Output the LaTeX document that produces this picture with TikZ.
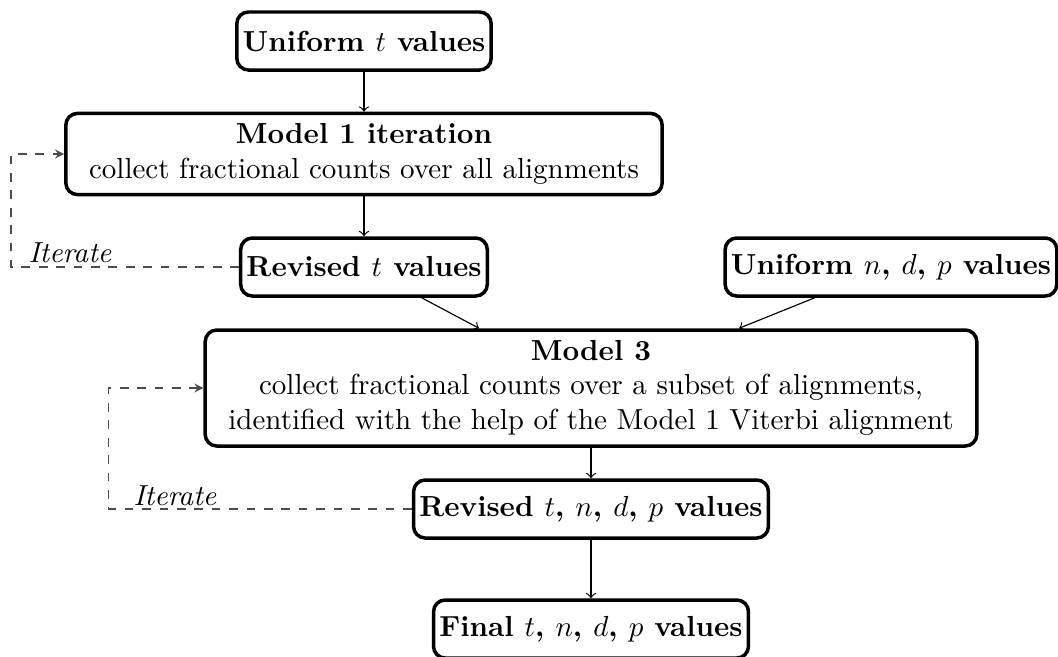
\documentclass[tikz,border=0pt]{standalone}
\begin{document}
\begin{tikzpicture}[x=0.3448pt,y=-0.3448pt,
  box/.style={draw,very thick,rounded corners,inner sep=2pt,minimum height=20pt,font=\bfseries},
  bigbox/.style={draw,very thick,rounded corners,inner sep=2pt},
  iterloop/.style={dashed,black!70,-stealth}]

\useasboundingbox (0,0) rectangle (1058,656);

\node[box] (unift) at (364,41) {Uniform $t$ values};
\node[bigbox] (model1) at (364,154) {\begin{tabular}{c}\textbf{Model 1 iteration}\\ collect fractional counts over all alignments\end{tabular}};
\node[box] (revt) at (364,267) {Revised $t$ values};
\node[box] (unifndp) at (891,267) {Uniform $n$, $d$, $p$ values};

\node[bigbox] (model3) at (591,388) {\begin{tabular}{c}\textbf{Model 3}\\ collect fractional counts over a subset of alignments,\\ identified with the help of the Model 1 Viterbi alignment\end{tabular}};
\node[box] (revall) at (591,509) {Revised $t$, $n$, $d$, $p$ values};
\node[box] (final) at (591,629) {Final $t$, $n$, $d$, $p$ values};

\draw[->] (unift) -- (model1);
\draw[->] (model1) -- (revt);
\draw[->] (revt) -- (model3);
\draw[->] (unifndp) -- (model3);
\draw[->] (model3) -- (revall);
\draw[->] (revall) -- (final);

% iterate loops
\draw[iterloop] (revt.west) -- ++(-228,0) |- (model1.west);
\node[anchor=base] (iter1) at (70,262) {\textit{Iterate}};

\draw[iterloop] (revall.west) -- ++(-303,0) |- (model3.west);
\node[anchor=base] (iter2) at (175,505) {\textit{Iterate}};

\end{tikzpicture}
\end{document}
